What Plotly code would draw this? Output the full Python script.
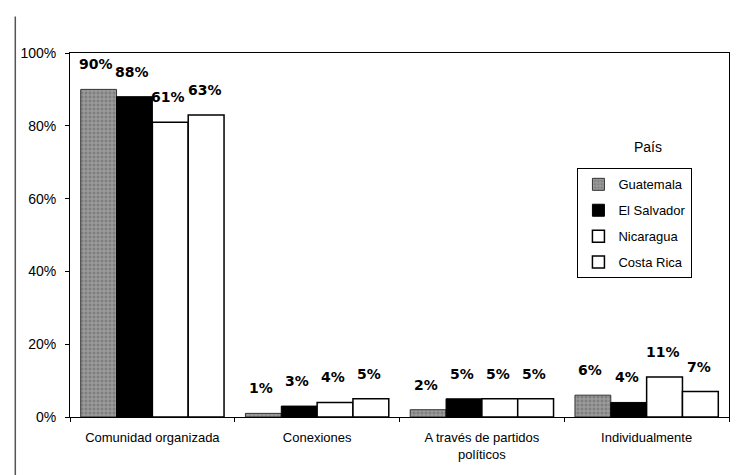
import plotly.graph_objects as go

categories = ["Comunidad organizada", "Conexiones", "A través de partidos<br>políticos", "Individualmente"]
countries = ["Guatemala", "El Salvador", "Nicaragua", "Costa Rica"]
values = {
    "Guatemala":   [90, 1, 2, 6],
    "El Salvador": [88, 3, 5, 4],
    "Nicaragua":   [81, 4, 5, 11],
    "Costa Rica":  [83, 5, 5, 7],
}
labels = {
    "Guatemala":   ["90%", "1%", "2%", "6%"],
    "El Salvador": ["88%", "3%", "5%", "4%"],
    "Nicaragua":   ["61%", "4%", "5%", "11%"],
    "Costa Rica":  ["63%", "5%", "5%", "7%"],
}
y_ticks = [0, 20, 40, 60, 80, 100]
y_tick_text = ["0%", "20%", "40%", "60%", "80%", "100%"]

styles = {
    "Guatemala":   dict(color="#7f7f7f", line=dict(color="#333333", width=1),
                        pattern=dict(shape="+", fgcolor="#d8d8d8", size=4, solidity=0.35)),
    "El Salvador": dict(color="#000000", line=dict(color="#000000", width=1)),
    "Nicaragua":   dict(color="#ffffff", line=dict(color="#000000", width=1.5)),
    "Costa Rica":  dict(color="#ffffff", line=dict(color="#000000", width=1.5)),
}

font_main = "Liberation Sans, Arial, sans-serif"

W, H = 734, 467
ML, MR, MT, MB = 56, 12, 45, 58
BARGAP = 0.13

fig = go.Figure()
for c in countries:
    fig.add_trace(go.Bar(
        name=c, x=categories, y=values[c],
        marker=styles[c], legendgroup=c,
    ))

# value labels above bars
plot_w = W - ML - MR
bar_px = plot_w / len(categories) * (1 - BARGAP) / len(countries)
for i, c in enumerate(countries):
    for cat, v, t in zip(categories, values[c], labels[c]):
        fig.add_annotation(
            x=cat, y=v, text=t, showarrow=False,
            xanchor="center", yanchor="bottom",
            xshift=(i - (len(countries) - 1) / 2) * bar_px - 2, yshift=15,
            font=dict(family="DejaVu Sans, sans-serif", size=14, color="#000000", weight="bold"),
        )

fig.update_layout(
    width=W, height=H,
    margin=dict(l=ML, r=MR, t=MT, b=MB),
    paper_bgcolor="white", plot_bgcolor="white",
    barmode="group", bargap=BARGAP, bargroupgap=0,
    font=dict(family=font_main, size=13, color="#000000"),
    showlegend=True,
    legend=dict(
        x=0.77, y=0.683, xanchor="left", yanchor="top",
        bordercolor="#000000", borderwidth=1, bgcolor="white",
        traceorder="grouped", tracegroupgap=6,
        font=dict(family=font_main, size=13),
        itemwidth=30,
    ),
)
fig.add_annotation(text="País", xref="paper", yref="paper", x=0.877, y=0.713,
                   xanchor="center", yanchor="bottom", showarrow=False,
                   font=dict(family=font_main, size=14))

fig.update_xaxes(
    showline=True, linecolor="#000000", linewidth=1, mirror=True,
    ticks="outside", tickson="boundaries", ticklen=4, tickcolor="#000000",
    showgrid=False, tickfont=dict(family=font_main, size=13),
    ticklabelstandoff=8,
)
fig.update_yaxes(
    range=[0, 100], tickvals=y_ticks, ticktext=y_tick_text,
    showline=True, linecolor="#000000", linewidth=1, mirror=True,
    ticks="outside", ticklen=4, tickcolor="#000000",
    showgrid=False, zeroline=False, ticklabelstandoff=6,
    tickfont=dict(family=font_main, size=14),
)

fig.add_shape(type="line", xref="paper", yref="paper",
              x0=-0.083, x1=-0.083, y0=-0.16, y1=1.1,
              line=dict(color="#555555", width=1.5))

fig.write_html("out.html")
